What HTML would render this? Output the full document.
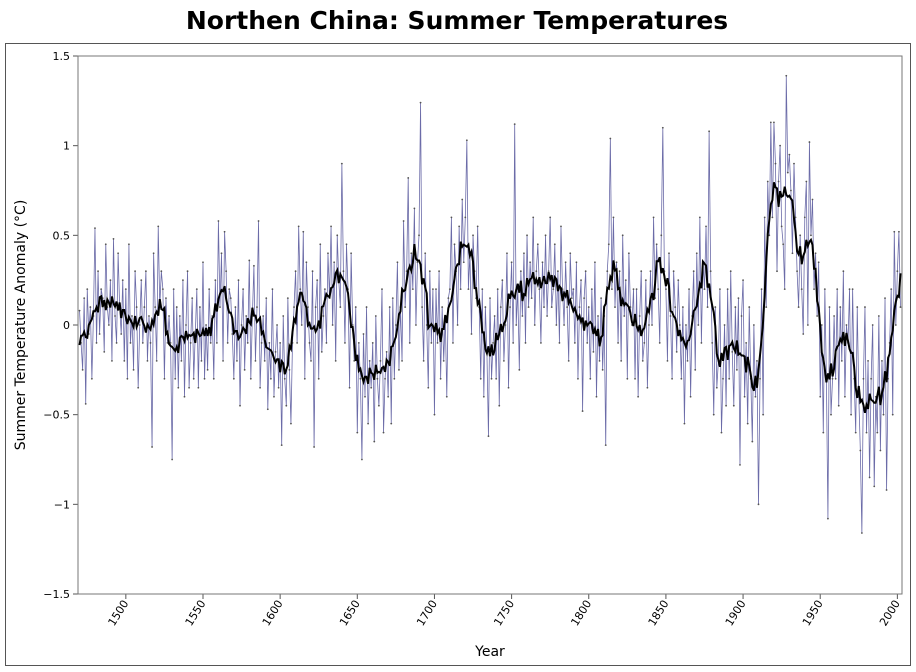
<!DOCTYPE html>
<html><head><meta charset="utf-8"><style>
html,body{margin:0;padding:0;background:#fff;}
svg{display:block;font-family:"DejaVu Sans","Liberation Sans",sans-serif;}
</style></head><body>
<svg id="chart" width="916" height="672">
<rect x="5.5" y="43.5" width="905" height="622" fill="none" stroke="#555" stroke-width="1"/>
<text x="457" y="29" text-anchor="middle" font-size="25" font-weight="bold" fill="#000">Northen China:  Summer Temperatures</text>
<text transform="translate(25,325) rotate(-90)" text-anchor="middle" font-size="14" fill="#000">Summer Temperature Anomaly (°C)</text>
<text x="490" y="656" text-anchor="middle" font-size="14" fill="#000">Year</text>
<g id="axes"></g>
<g id="marks"></g>
<rect x="78" y="56" width="824" height="538" fill="none" stroke="#777" stroke-width="1"/>
</svg>
<script>
const startYear = 1470;
const annualValues = [
0.08,-0.1,-0.25,0.15,-0.44,0.2,-0.05,0.1,-0.3,0.05,
0.54,-0.1,0.3,-0.05,0.2,0.15,-0.15,0.45,0.1,0.0,
0.25,-0.2,0.48,0.05,-0.1,0.4,0.1,-0.05,0.25,-0.2,
0.2,-0.3,0.45,-0.1,0.05,-0.25,0.3,0.1,-0.35,0.0,
0.25,-0.1,0.1,0.3,-0.2,0.05,-0.1,-0.68,0.4,0.1,
-0.2,0.55,0.1,0.3,0.2,-0.3,0.15,-0.1,0.05,-0.1,
-0.75,0.2,-0.3,0.1,-0.35,0.05,-0.2,0.25,-0.4,0.0,
0.3,-0.35,-0.1,0.15,-0.3,-0.05,0.2,-0.35,0.1,-0.2,
0.35,-0.3,0.0,-0.25,0.2,-0.1,0.05,-0.3,0.25,-0.1,
0.58,0.1,0.4,-0.2,0.52,0.3,-0.1,0.2,0.15,-0.05,
-0.3,0.1,-0.2,0.25,-0.45,0.0,0.2,-0.25,0.05,-0.1,
0.36,-0.3,0.05,0.33,-0.2,0.1,0.58,-0.35,-0.1,0.05,
-0.2,0.15,-0.47,-0.1,-0.3,0.2,-0.4,-0.15,0.0,-0.35,
-0.1,-0.67,0.05,-0.3,-0.45,0.15,-0.25,-0.55,-0.1,0.1,
0.3,-0.1,0.55,0.2,0.0,0.52,-0.3,0.35,0.1,-0.1,
-0.2,0.3,-0.68,0.1,0.25,-0.3,0.45,-0.15,0.05,0.2,
-0.1,0.4,0.15,0.55,0.0,0.35,-0.2,0.5,0.25,0.1,
0.9,0.3,-0.1,0.45,0.2,-0.35,0.4,0.0,-0.2,0.1,
-0.6,-0.1,-0.3,-0.75,-0.05,-0.4,0.1,-0.55,-0.2,-0.35,
-0.1,-0.65,0.05,-0.3,-0.45,-0.2,0.2,-0.6,-0.3,-0.15,
-0.4,0.1,-0.55,0.15,-0.3,0.0,0.35,-0.25,0.1,-0.2,
0.58,0.1,0.3,0.82,-0.1,0.4,0.2,0.65,0.0,0.35,
0.5,1.24,0.1,-0.2,0.4,0.0,-0.35,0.3,-0.1,0.2,
-0.5,0.2,-0.1,0.3,-0.3,0.1,-0.2,0.05,-0.4,0.15,
0.2,0.6,-0.1,0.45,0.3,0.0,0.55,0.2,0.7,0.35,
0.6,1.03,0.2,0.4,-0.05,0.5,0.3,0.15,0.55,0.1,
-0.3,0.2,-0.4,0.1,-0.15,-0.62,0.15,-0.3,-0.1,0.05,
-0.3,0.2,-0.45,0.1,0.25,-0.2,0.0,0.4,-0.35,0.1,
0.35,-0.1,1.12,0.0,0.2,-0.25,0.3,0.05,0.4,-0.1,
0.5,0.1,0.35,0.15,0.6,0.0,0.3,0.45,0.2,-0.1,
0.35,0.1,0.5,0.05,0.3,0.6,0.1,0.2,0.45,0.0,
0.3,-0.1,0.55,0.2,0.0,0.35,0.1,-0.2,0.4,0.15,
0.2,-0.1,0.35,-0.3,0.1,0.25,-0.48,0.15,0.3,-0.1,
0.1,-0.3,0.2,-0.15,0.35,-0.4,0.05,-0.2,0.15,-0.25,
0.05,-0.67,0.3,0.45,1.04,0.2,0.6,0.1,0.35,-0.1,
0.3,-0.2,0.5,0.05,0.25,-0.3,0.4,0.1,0.0,0.2,
-0.3,0.2,-0.4,0.05,0.3,-0.2,-0.1,0.25,-0.35,0.0,
0.3,0.0,0.6,0.15,0.45,0.2,-0.1,0.5,1.1,0.3,
0.2,-0.2,0.4,0.05,-0.3,0.3,0.1,-0.15,0.25,0.0,
-0.3,0.1,-0.55,0.0,-0.2,0.2,-0.4,0.05,0.3,-0.25,
0.4,0.0,0.6,-0.1,0.35,0.2,0.55,0.1,1.08,0.3,
-0.1,-0.5,0.1,-0.35,-0.2,0.2,-0.6,-0.3,0.0,-0.45,
0.2,-0.3,0.3,-0.15,-0.45,0.1,-0.25,0.15,-0.78,0.05,
0.25,-0.4,-0.1,-0.55,0.1,-0.3,-0.65,0.0,-0.4,-0.2,
-1.0,-0.3,0.2,-0.5,0.6,0.1,0.8,0.5,1.13,0.6,
1.13,0.9,0.3,0.8,1.0,0.55,0.45,0.2,1.39,0.85,
0.95,0.75,0.4,0.9,0.6,0.3,0.1,0.5,0.2,-0.05,
0.6,0.8,0.0,1.02,0.5,0.7,0.2,0.4,0.05,0.35,
-0.4,0.0,-0.6,0.2,-0.3,-1.08,0.1,-0.5,-0.3,0.05,
-0.3,0.2,-0.45,0.1,-0.2,0.3,-0.4,0.0,-0.1,0.2,
-0.5,0.2,-0.3,-0.6,0.1,-0.4,-0.7,-1.16,-0.3,0.1,
-0.6,-0.2,-0.85,-0.3,0.0,-0.9,-0.4,-0.6,0.05,-0.7,
-0.2,-0.5,0.15,-0.92,-0.3,-0.1,0.2,-0.5,0.52,0.0,
0.3,0.52,0.1
];
const xTickValues = [1500,1550,1600,1650,1700,1750,1800,1850,1900,1950,2000];
const yTickValues = [-1.5,-1,-0.5,0,0.5,1,1.5];
const yTickLabels = ["\u22121.5","\u22121","\u22120.5","0","0.5","1","1.5"];

const NS = "http://www.w3.org/2000/svg";
const X0 = 78, X1 = 902, Y0 = 56, Y1 = 594;
const xMin = 1469, xMax = 2003, yMin = -1.5, yMax = 1.5;
function xScale(v){ return X0 + (v - xMin) / (xMax - xMin) * (X1 - X0); }
function yScale(v){ return Y1 - (v - yMin) / (yMax - yMin) * (Y1 - Y0); }
function mk(tag, attrs){ const e = document.createElementNS(NS, tag); for (const k in attrs) e.setAttribute(k, attrs[k]); return e; }

const axes = document.getElementById('axes');
yTickValues.forEach((v, i) => {
  const y = yScale(v);
  const t = mk('line', {x1: X0 - 5, x2: X0, y1: y, y2: y, stroke: '#555'});
  
  
  axes.appendChild(t);
  const l = mk('text', {x: X0 - 8, y: y + 4, 'text-anchor': 'end', 'font-size': 11, fill: '#000'});
  l.textContent = yTickLabels[i];
  
  
  axes.appendChild(l);
});
xTickValues.forEach(v => {
  const x = xScale(v);
  const t = mk('line', {x1: x, x2: x, y1: Y1, y2: Y1 + 5, stroke: '#555'});
  
  
  axes.appendChild(t);
  const l = mk('text', {transform: `translate(${x + 3},${Y1 + 9}) rotate(-58)`, 'text-anchor': 'end', 'font-size': 11, fill: '#000'});
  l.textContent = v;
  
  
  axes.appendChild(l);
});

const marks = document.getElementById('marks');
let d = '';
annualValues.forEach((v, i) => { d += (i ? 'L' : 'M') + xScale(startYear + i).toFixed(2) + ',' + yScale(v).toFixed(2); });
const raw = mk('path', {d: d, fill: 'none', stroke: '#6b6ba8', 'stroke-width': 0.8});


marks.appendChild(raw);
annualValues.forEach((v, i) => {
  const c = mk('circle', {cx: xScale(startYear + i), cy: yScale(v), r: 0.9, fill: '#555'});
  
  
  marks.appendChild(c);
});
const W = 4;
let ds = '';
annualValues.forEach((v, i) => {
  let s = 0, n = 0;
  for (let j = Math.max(0, i - W); j <= Math.min(annualValues.length - 1, i + W); j++) { s += annualValues[j]; n++; }
  ds += (i ? 'L' : 'M') + xScale(startYear + i).toFixed(2) + ',' + yScale(s / n).toFixed(2);
});
const sm = mk('path', {d: ds, fill: 'none', stroke: '#000', 'stroke-width': 2});


marks.appendChild(sm);
</script>
</body></html>
